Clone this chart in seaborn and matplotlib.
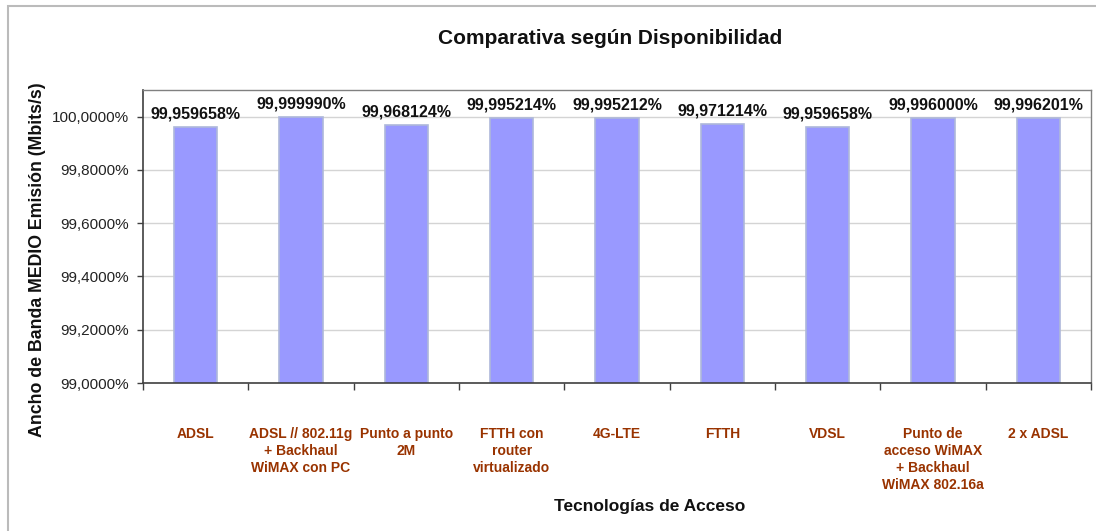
import matplotlib
matplotlib.use("Agg")
import matplotlib.pyplot as plt
import matplotlib.ticker as mticker
from matplotlib.patches import Rectangle
import seaborn as sns
import pandas as pd
import numpy as np

categories = [
    "ADSL",
    "ADSL // 802.11g\n+ Backhaul\nWiMAX con PC",
    "Punto a punto\n2M",
    "FTTH con\nrouter\nvirtualizado",
    "4G-LTE",
    "FTTH",
    "VDSL",
    "Punto de\nacceso WiMAX\n+ Backhaul\nWiMAX 802.16a",
    "2 x ADSL",
]
values = [99.959658, 99.999990, 99.968124, 99.995214, 99.995212,
          99.971214, 99.959658, 99.996000, 99.996201]
yticks = [99.0, 99.2, 99.4, 99.6, 99.8, 100.0]

title = "Comparativa según Disponibilidad"
xlabel = "Tecnologías de Acceso"
ylabel = "Ancho de Banda MEDIO Emisión (Mbits/s)"

df = pd.DataFrame({"cat": categories, "val": values})

sns.set_theme(style="white")
plt.rcParams["font.family"] = ["Liberation Sans", "DejaVu Sans"]

fig = plt.figure(figsize=(10.96, 5.31), dpi=100)
ax = fig.add_axes([143 / 1096, 1 - 383 / 531, (1091 - 143) / 1096, (383 - 90) / 531])

sns.barplot(data=df, x="cat", y="val", ax=ax, color="#9999FF", saturation=1,
            width=0.41, edgecolor="#AEB8DA", linewidth=1.2)

ax.set_ylim(99.0, 100.1)
ax.set_xlim(-0.5, len(categories) - 0.5)
ax.set_yticks(yticks)
ax.yaxis.set_major_formatter(mticker.FuncFormatter(
    lambda v, p: f"{v:.4f}".replace(".", ",") + "%"))
ax.yaxis.grid(True, color="#D4D4D4", linewidth=1)
ax.set_axisbelow(True)

for i, v in enumerate(values):
    ax.annotate(f"{v:.6f}".replace(".", ",") + "%", (i, v),
                xytext=(0, 4), textcoords="offset points",
                ha="center", va="bottom", fontsize=11.5, fontweight="bold",
                color="#111111")

ax.tick_params(axis="y", which="major", left=True, length=4, width=1,
               color="#404040", labelsize=11, labelcolor="#222222", pad=6)
ax.set_xticks(range(len(categories)))
ax.set_xticklabels(categories, fontsize=10, fontweight="bold",
                   color="#993300", linespacing=1.25, va="top")
ax.tick_params(axis="x", which="major", bottom=False, pad=26)
ax.set_xticks(np.arange(-0.5, len(categories), 1.0), minor=True)
ax.tick_params(axis="x", which="minor", bottom=True, length=5, width=1,
               color="#404040")

for side in ["left", "bottom"]:
    ax.spines[side].set_color("#404040")
    ax.spines[side].set_linewidth(1.2)
for side in ["top", "right"]:
    ax.spines[side].set_color("#808080")
    ax.spines[side].set_linewidth(1.0)

ax.set_xlabel("")
ax.set_ylabel("")
fig.text(650 / 1096, 1 - 507 / 531, xlabel, ha="center", va="center",
         fontsize=12.5, fontweight="bold", color="#111111")
fig.text(38 / 1096, 1 - 260 / 531, ylabel, ha="center", va="center",
         rotation=90, fontsize=12.8, fontweight="bold", color="#111111")
fig.text(610 / 1096, 1 - 39 / 531, title, ha="center", va="center",
         fontsize=15, fontweight="bold", color="#111111")

fig.patches.append(Rectangle((8 / 1096, -0.2), 1.2, 1.2 - 6 / 531,
                             transform=fig.transFigure, fill=False,
                             edgecolor="#BBBBBB", linewidth=1.5))

fig.savefig("out.png", dpi=100)
